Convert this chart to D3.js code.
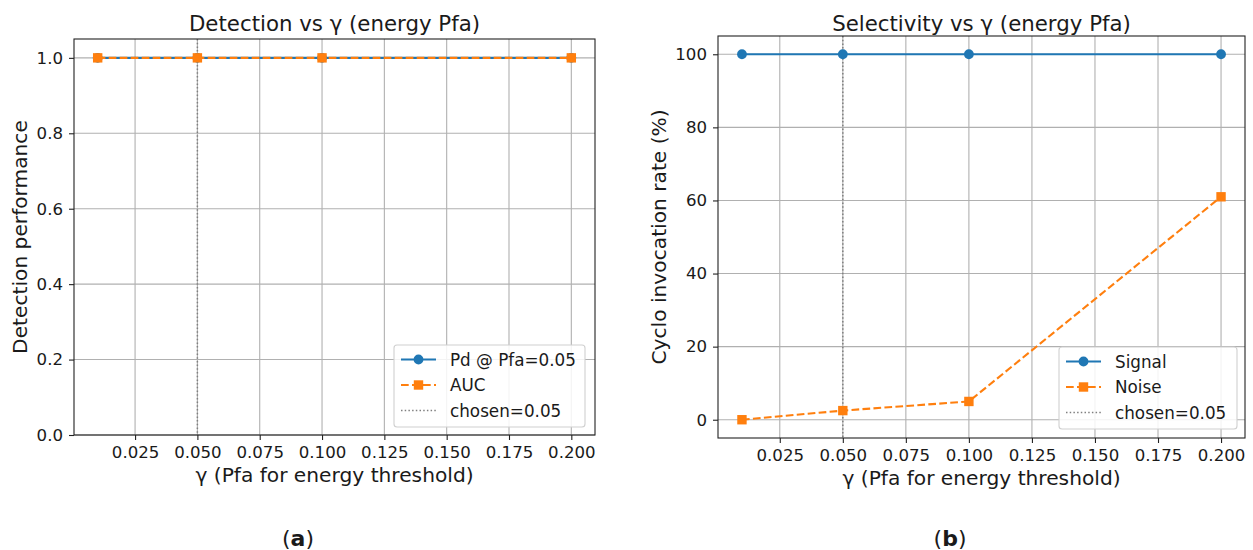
<!DOCTYPE html>
<html><head><meta charset="utf-8">
<script src="https://cdn.jsdelivr.net/npm/d3@7"></script>
<style>body{margin:0;background:#fff}svg{display:block}text{font-family:"DejaVu Sans",sans-serif;fill:#1a1a1a}</style>
</head><body><svg id="c" width="1253" height="550"></svg>
<script>
const gammas = [0.01, 0.05, 0.10, 0.20];
const pdValues = [1.0, 1.0, 1.0, 1.0];
const aucValues = [1.0, 1.0, 1.0, 1.0];
const signalRate = [100, 100, 100, 100];
const noiseRate = [0, 2.5, 5, 61];
const chosenGamma = 0.05;
const xTicks = [0.025, 0.050, 0.075, 0.100, 0.125, 0.150, 0.175, 0.200];
const yTicksA = [0.0, 0.2, 0.4, 0.6, 0.8, 1.0];
const yTicksB = [0, 20, 40, 60, 80, 100];

const blue = "#1f77b4", orange = "#ff7f0e";
const svg = d3.select("#c");

function panel(o) {
  const g = svg.append("g");
  const x = d3.scaleLinear().domain([0.0005, 0.2095]).range([o.left, o.right]);
  const y = d3.scaleLinear().domain(o.ydom).range([o.bottom, o.top]);
  // grid
  g.append("g").selectAll("line").data(xTicks).join("line")
    .attr("x1", d => x(d)).attr("x2", d => x(d)).attr("y1", o.top).attr("y2", o.bottom)
    .attr("stroke", "#b0b0b0").attr("stroke-width", 1.1);
  g.append("g").selectAll("line").data(o.yticks).join("line")
    .attr("x1", o.left).attr("x2", o.right).attr("y1", d => y(d)).attr("y2", d => y(d))
    .attr("stroke", "#b0b0b0").attr("stroke-width", 1.1);
  // axes
  const xa = g.append("g").attr("transform", `translate(0,${o.bottom})`)
    .call(d3.axisBottom(x).tickValues(xTicks).tickFormat(d3.format(".3f")).tickSize(5).tickPadding(6));
  const ya = g.append("g").attr("transform", `translate(${o.left},0)`)
    .call(d3.axisLeft(y).tickValues(o.yticks).tickFormat(o.yfmt).tickSize(5).tickPadding(6));
  [xa, ya].forEach(a => {
    a.select(".domain").remove();
    a.selectAll("text").attr("font-size", 16.6).attr("font-family", "DejaVu Sans").attr("fill", "#1a1a1a");
    a.selectAll("line").attr("stroke", "#222").attr("stroke-width", 1.1);
  });
  // chosen line
  g.append("line").attr("x1", x(chosenGamma)).attr("x2", x(chosenGamma))
    .attr("y1", o.top).attr("y2", o.bottom)
    .attr("stroke", "#808080").attr("stroke-width", 1.5).attr("stroke-dasharray", "1.5,2.2");
  // series
  const line = d3.line().x((d, i) => x(gammas[i])).y(d => y(d));
  o.series.forEach(s => {
    g.append("path").datum(s.values).attr("d", line).attr("fill", "none")
      .attr("stroke", s.color).attr("stroke-width", 2.1)
      .attr("stroke-dasharray", s.dash ? "7.7,3.3" : null);
    if (s.marker === "circle") {
      g.append("g").selectAll("circle").data(s.values).join("circle")
        .attr("cx", (d, i) => x(gammas[i])).attr("cy", d => y(d)).attr("r", 4.9).attr("fill", s.color);
    } else {
      g.append("g").selectAll("rect").data(s.values).join("rect")
        .attr("x", (d, i) => x(gammas[i]) - 4.7).attr("y", d => y(d) - 4.7)
        .attr("width", 9.4).attr("height", 9.4).attr("fill", s.color);
    }
  });
  // frame
  g.append("rect").attr("x", o.left).attr("y", o.top).attr("width", o.right - o.left).attr("height", o.bottom - o.top)
    .attr("fill", "none").attr("stroke", "#222").attr("stroke-width", 1.1);
  const cx = (o.left + o.right) / 2;
  g.append("text").attr("x", cx).attr("y", 31).attr("text-anchor", "middle").attr("font-size", 21.3).text(o.title);
  g.append("text").attr("x", cx).attr("y", o.bottom + 46.5).attr("text-anchor", "middle").attr("font-size", 20.2).text("γ (Pfa for energy threshold)");
  g.append("text").attr("transform", `translate(${o.ylabx},${(o.top + o.bottom) / 2}) rotate(-90)`)
    .attr("text-anchor", "middle").attr("font-size", 20.2).text(o.ylabel);
  // legend
  const L = o.legend;
  g.append("rect").attr("x", L.x).attr("y", L.y).attr("width", L.w).attr("height", 82).attr("rx", 3)
    .attr("fill", "#fff").attr("fill-opacity", 0.85).attr("stroke", "#d0d0d0").attr("stroke-width", 1.1);
  const items = o.series.map(s => ({label: s.label, color: s.color, dash: s.dash, marker: s.marker}))
    .concat([{label: "chosen=0.05", color: "#808080", dotted: true}]);
  items.forEach((it, i) => {
    const yy = L.y + 14.5 + i * 25.5;
    const hx = L.x + 7;
    g.append("line").attr("x1", hx).attr("x2", hx + 35).attr("y1", yy).attr("y2", yy)
      .attr("stroke", it.color).attr("stroke-width", it.dotted ? 1.5 : 2.1)
      .attr("stroke-dasharray", it.dotted ? "1.5,2.2" : (it.dash ? "7.7,3.3" : null));
    if (it.marker === "circle") g.append("circle").attr("cx", hx + 17.5).attr("cy", yy).attr("r", 4.9).attr("fill", it.color);
    if (it.marker === "square") g.append("rect").attr("x", hx + 12.8).attr("y", yy - 4.7).attr("width", 9.4).attr("height", 9.4).attr("fill", it.color);
    g.append("text").attr("x", L.x + 56).attr("y", yy + 6).attr("font-size", 16.8).text(it.label);
  });
  g.append("text").attr("x", o.subx).attr("y", 546).attr("text-anchor", "middle")
    .attr("font-family", "'TeX Gyre Pagella','Palatino Linotype','Liberation Serif',serif").attr("font-size", 22)
    .html(`(<tspan font-weight="bold">${o.sub}</tspan>)`);
}

panel({left: 74, right: 595, top: 39, bottom: 435, ydom: [0, 1.05], yticks: yTicksA, yfmt: d3.format(".1f"),
  title: "Detection vs γ (energy Pfa)", ylabel: "Detection performance", ylabx: 27, sub: "a", subx: 298,
  series: [
    {label: "Pd @ Pfa=0.05", values: pdValues, color: blue, marker: "circle"},
    {label: "AUC", values: aucValues, color: orange, dash: true, marker: "square"}
  ],
  legend: {x: 394, y: 345, w: 191}
});
panel({left: 718, right: 1245, top: 36, bottom: 438, ydom: [-5, 105], yticks: yTicksB, yfmt: d3.format("d"),
  title: "Selectivity vs γ (energy Pfa)", ylabel: "Cyclo invocation rate (%)", ylabx: 666, sub: "b", subx: 950,
  series: [
    {label: "Signal", values: signalRate, color: blue, marker: "circle"},
    {label: "Noise", values: noiseRate, color: orange, dash: true, marker: "square"}
  ],
  legend: {x: 1059, y: 347, w: 178}
});
</script></body></html>
